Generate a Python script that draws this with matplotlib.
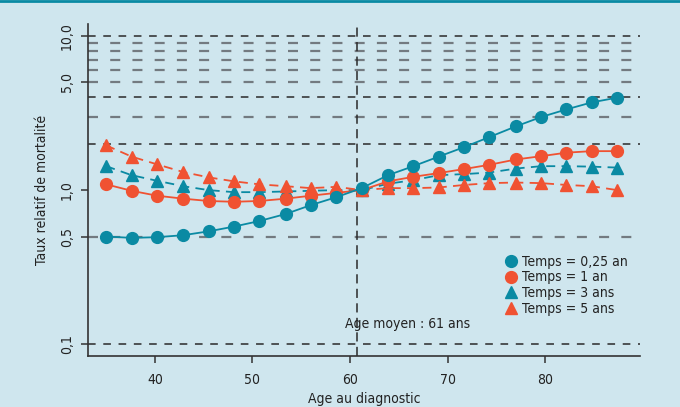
import matplotlib
matplotlib.use("Agg")
import matplotlib.pyplot as plt
from matplotlib.lines import Line2D

plt.rcParams['font.family'] = ['DejaVu Sans']
plt.rcParams['font.stretch'] = 'condensed'

ages = [35.0, 37.6, 40.2, 42.9, 45.5, 48.1, 50.7, 53.4, 56.0, 58.6, 61.2,
        63.9, 66.5, 69.1, 71.7, 74.3, 77.0, 79.6, 82.2, 84.8, 87.4]
t025 = [0.50, 0.49, 0.495, 0.51, 0.54, 0.58, 0.63, 0.70, 0.80, 0.90, 1.03,
        1.25, 1.43, 1.65, 1.90, 2.21, 2.59, 2.98, 3.34, 3.71, 3.98]
t1 = [1.09, 0.99, 0.92, 0.88, 0.85, 0.84, 0.85, 0.88, 0.92, 0.96, 1.00,
      1.14, 1.22, 1.29, 1.37, 1.46, 1.58, 1.66, 1.75, 1.79, 1.79]
t3 = [1.43, 1.25, 1.15, 1.06, 1.00, 0.97, 0.97, 0.98, 0.99, 1.00, 1.00,
      1.10, 1.16, 1.25, 1.27, 1.30, 1.38, 1.43, 1.43, 1.42, 1.40]
t5 = [1.95, 1.65, 1.47, 1.31, 1.21, 1.14, 1.09, 1.06, 1.03, 1.05, 1.00,
      1.03, 1.03, 1.04, 1.08, 1.11, 1.12, 1.11, 1.08, 1.06, 1.00]
labels = ['Temps = 0,25 an', 'Temps = 1 an', 'Temps = 3 ans', 'Temps = 5 ans']
grid_black = [10, 4, 2, 0.1]
grid_gray = [9, 8, 7, 6, 5, 3, 0.5]
yticks = [0.1, 0.5, 1.0, 5.0, 10.0]
yticklabels = ['0,1', '0,5', '1,0', '5,0', '10,0']
xticks = [40, 50, 60, 70, 80]
mean_age = 60.7

BG = '#cfe6ee'
TEAL = '#0a8aa3'
RED = '#f05232'
TXT = '#222222'
FS = 10

fig = plt.figure(figsize=(6.8, 4.07), dpi=100, facecolor=BG)
ax = fig.add_axes([88/680, 51/407, 552/680, 332/407])
ax.set_facecolor(BG)
ax.set_yscale('log')
ax.set_xlim(33.13, 89.74)
ax.set_ylim(0.0839, 11.96)

for v in grid_gray:
    ax.axhline(v, color='#737a80', lw=1.6, dashes=(4.5, 5.5), zorder=1)
for v in grid_black:
    ax.axhline(v, color='#2a2a2a', lw=1.1, dashes=(5, 5), zorder=1)
ax.axvline(mean_age, color='#2a2a2a', lw=1.1, dashes=(6, 3.5), zorder=1)

ms = 8.5
ax.plot(ages, t3, color=TEAL, lw=1.3, dashes=(5, 3.5), marker='^', ms=ms, zorder=3, label=labels[2])
ax.plot(ages, t5, color=RED, lw=1.3, dashes=(5, 3.5), marker='^', ms=ms, zorder=3, label=labels[3])
ax.plot(ages, t1, color=RED, lw=1.3, marker='o', ms=ms, zorder=4, label=labels[1])
ax.plot(ages, t025, color=TEAL, lw=1.3, marker='o', ms=ms, zorder=5, label=labels[0])

ax.text(mean_age - 1.2, 0.136, 'Age moyen : 61 ans', fontsize=FS, color=TXT, va='center', ha='left')

handles = [Line2D([], [], ls='none', marker='o', color=TEAL, ms=ms),
           Line2D([], [], ls='none', marker='o', color=RED, ms=ms),
           Line2D([], [], ls='none', marker='^', color=TEAL, ms=ms),
           Line2D([], [], ls='none', marker='^', color=RED, ms=ms)]
leg = ax.legend(handles, labels, loc='upper left', bbox_to_anchor=(0.747, 0.326),
                frameon=False, fontsize=FS, handlelength=0.6, handletextpad=0.45,
                labelspacing=0.12, borderpad=0)
for t in leg.get_texts():
    t.set_color(TXT)

for s in ['top', 'right']:
    ax.spines[s].set_visible(False)
for s in ['left', 'bottom']:
    ax.spines[s].set_color('#333333')
    ax.spines[s].set_linewidth(1.2)

ax.set_yticks(yticks)
ax.set_yticklabels(yticklabels, rotation=90, va='center')
ax.minorticks_off()
ax.set_xticks(xticks)
ax.tick_params(axis='both', direction='out', length=5, width=1.1, color='#333333',
               labelsize=FS, labelcolor=TXT)
ax.tick_params(axis='y', pad=5)
ax.tick_params(axis='x', pad=7)
ax.set_xlabel('Age au diagnostic', fontsize=FS, color=TXT, labelpad=4)
ax.set_ylabel('Taux relatif de mortalité', fontsize=FS, color=TXT, labelpad=8)

fig.add_artist(Line2D([0, 1], [0.997, 0.997], transform=fig.transFigure, color=TEAL, lw=2))

fig.savefig('out.png', dpi=100, facecolor=BG)
